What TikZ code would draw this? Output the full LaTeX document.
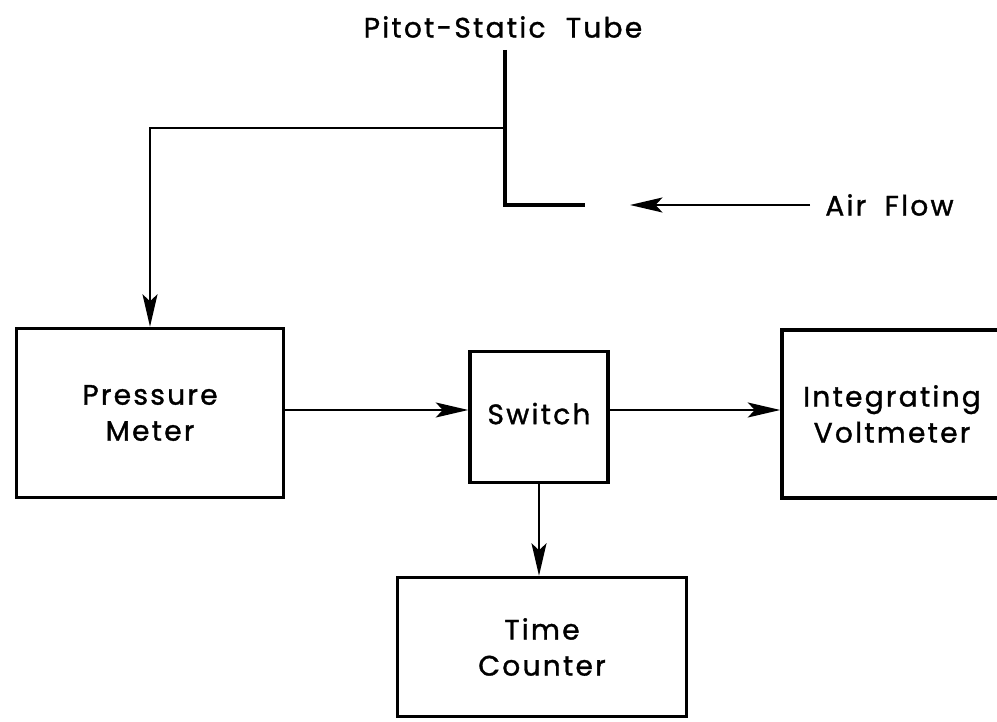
\documentclass[tikz,border=0pt]{standalone}
\usepackage{fontspec}
\setmainfont{Poppins}[LetterSpace=8, FakeBold=1.2]
\usetikzlibrary{arrows.meta,positioning,calc}

\begin{document}
\begin{tikzpicture}[x=0.02cm, y=-0.02cm,
  block/.style={draw, line width=2pt, align=center, font=\fontsize{16}{20.5}\selectfont, inner sep=0pt},
  lbl/.style={font=\fontsize{16}{20.5}\selectfont, inner sep=0pt},
  arr/.style={-{Stealth[length=6.5mm, width=3mm, inset=1.4mm]}, line width=1.2pt},
  tube/.style={line width=2.4pt}]
  \useasboundingbox (0,0) rectangle (997,722);
  \clip (0,0) rectangle (997,722);
  % pitot-static tube
  \node[lbl] (title) at (503,27) {Pitot-Static\hspace{6pt} Tube};
  \coordinate (tubetop) at (505,50);
  \coordinate (tap) at (505,128);
  \coordinate (elbow) at (505,205);
  \coordinate (mouth) at (585,205);
  \draw[tube] (tubetop) -- (elbow) -- (mouth);
  \node[lbl, anchor=west] (air) at (825,205) {Air\hspace{5pt} Flow};
  \coordinate (flowtip) at (630,205);
  % blocks
  \node[block, minimum width=5.34cm, minimum height=3.38cm] (pm) at (150,413) {Pressure\\Meter};
  \node[block, minimum width=2.76cm, minimum height=2.62cm] (sw) at (539,417) {\raisebox{4pt}{Switch}};
  \node[block, minimum width=4.4cm, minimum height=3.36cm] (vm) at (892,414) {Integrating\\Voltmeter};
  \node[block, minimum width=5.78cm, minimum height=2.78cm] (tc) at (542,647) {Time\\Counter};
  % connectors
  \draw[arr] ($(air.west)+(-15,0)$) -- (flowtip);
  \draw[arr] (tap) -| (pm.north);
  \draw[arr] (pm.east |- 0,410) -- (sw.west |- 0,410);
  \draw[arr] (sw.east |- 0,410) -- (vm.west |- 0,410);
  \draw[arr] (sw.south) -- (sw.south |- tc.north);
\end{tikzpicture}
\end{document}
